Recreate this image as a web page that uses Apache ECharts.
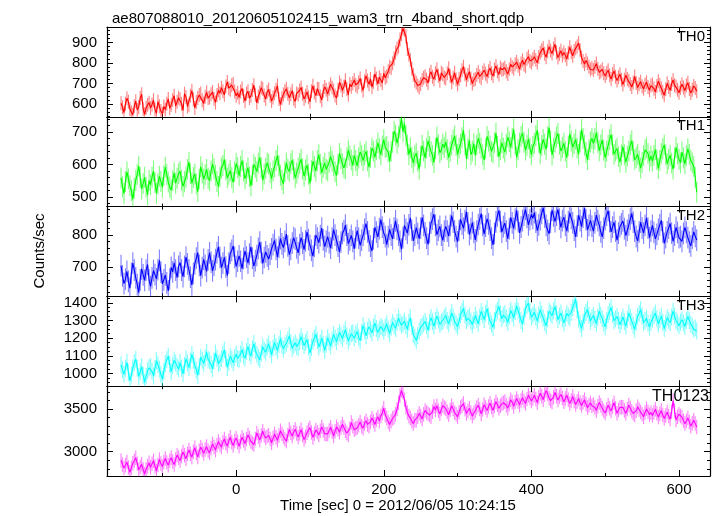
<!DOCTYPE html>
<html>
<head>
<meta charset="utf-8">
<script src="https://cdn.jsdelivr.net/npm/echarts@6/dist/echarts.min.js"></script>
<style>html,body{margin:0;padding:0;background:#fff}#c{width:717px;height:516px}</style>
</head>
<body>
<div id="c"></div>
<script>
// ---- data (2 s bins, first bin at t = -156 s) ----
const T_START = -156, BIN = 2;
const th0 = [
604,585,558,602,628,611,576,560,548,590,614,571,586,630,648,575,550,582,596,607,
581,598,619,574,555,612,589,566,553,588,573,602,625,579,597,620,641,590,611,631,
623,602,569,650,635,588,597,641,665,622,581,610,629,644,651,618,603,636,657,629,
632,648,659,626,608,644,667,653,680,662,645,685,708,677,669,692,698,661,640,655,
632,661,676,640,614,651,662,629,640,668,692,645,606,637,656,680,674,642,624,659,
671,640,615,632,653,670,689,624,599,628,647,662,675,650,631,648,665,626,613,652,
647,666,681,650,625,640,659,633,611,662,689,657,641,675,673,638,619,664,683,670,
648,675,697,680,666,642,629,668,706,690,667,685,716,672,645,698,684,701,717,693,
684,706,725,690,666,711,737,715,696,722,682,709,747,725,698,731,717,703,750,728,
735,760,782,775,798,822,851,870,880,915,940,968,962,930,868,840,815,772,742,715,
704,690,681,698,717,728,735,718,703,742,757,733,721,750,769,738,713,752,745,729,
724,750,774,735,706,728,752,720,696,722,740,765,782,745,718,741,758,725,700,717,
722,741,755,735,726,752,765,748,734,760,775,750,736,768,785,759,744,778,767,770,
777,760,746,770,793,781,772,794,805,786,770,798,813,792,784,820,831,810,802,818,
830,815,801,829,850,862,873,845,828,857,879,860,846,870,891,852,826,844,859,836,
851,838,819,850,877,852,835,858,871,880,897,862,827,810,795,812,798,782,768,775,
766,780,797,772,754,758,769,750,736,752,765,740,722,745,761,733,714,730,745,718,
695,718,740,722,714,697,683,705,734,703,680,696,709,687,674,694,706,683,667,690,
695,676,659,688,711,694,677,660,643,672,701,683,667,698,717,692,685,670,655,679,
696,681,666,690,704,673,654,670,688,678,662];
const th1 = [
559,532,511,548,577,556,535,520,493,528,551,570,595,560,525,542,561,530,507,551,
538,561,580,545,512,540,564,548,530,566,592,570,546,531,522,550,574,543,558,572,
579,552,533,547,561,585,607,572,543,560,571,540,517,556,593,574,555,569,585,558,
551,580,601,586,567,548,533,562,589,597,615,584,559,570,581,560,545,578,603,590,
566,594,612,580,556,573,590,562,534,568,600,591,578,604,622,590,552,571,588,605,
601,575,557,580,593,612,627,596,567,552,541,578,605,586,579,602,613,585,559,574,
589,603,616,586,564,583,598,570,542,581,610,594,580,612,630,601,574,592,604,585,
580,607,624,610,596,578,566,601,634,618,602,590,586,621,644,627,614,597,628,612,
596,620,638,628,612,630,640,611,592,622,650,641,622,645,666,648,630,657,676,652,
655,638,610,640,668,702,690,665,685,712,742,700,725,688,660,630,650,622,605,626,
634,610,586,625,658,641,620,650,672,655,640,628,606,648,684,660,636,645,662,652,
669,645,621,640,659,675,687,658,631,650,663,682,705,660,617,648,675,630,641,664,
628,660,680,665,650,630,614,648,686,672,656,640,636,667,696,655,624,645,666,650,
638,662,684,670,652,680,708,662,622,645,666,686,696,668,644,659,678,650,630,655,
665,688,705,667,633,658,677,662,647,684,713,672,629,650,669,684,695,662,641,652,
665,640,621,657,693,672,653,664,677,650,631,670,707,680,659,636,615,645,669,680,
665,678,697,668,642,660,675,644,621,640,659,676,691,660,631,642,649,624,607,630,
655,630,607,625,641,660,673,640,615,622,631,610,589,606,627,645,651,634,611,626,
610,628,646,615,588,612,634,648,660,630,602,617,628,604,586,620,652,633,616,605,
638,620,602,627,648,631,612,604,594,560,515];
const th2 = [
704,672,648,662,686,655,634,680,712,690,666,645,620,660,694,675,658,690,708,660,
639,666,689,676,663,692,721,684,647,660,675,650,625,662,699,685,713,690,667,702,
714,690,670,702,731,710,691,668,644,680,710,728,745,705,673,698,724,705,686,722,
744,715,688,705,723,745,763,730,698,712,730,700,673,712,743,752,766,730,702,718,
735,718,695,727,750,731,712,740,763,728,703,720,736,758,778,745,711,730,747,735,
725,740,757,770,783,755,731,762,789,772,761,780,803,766,739,755,775,792,787,760,
744,770,792,775,754,782,810,786,768,752,734,765,800,790,776,798,822,785,764,780,
795,776,759,790,817,800,783,765,747,778,805,814,831,800,773,785,799,780,757,792,
814,790,768,784,800,818,836,810,782,765,750,788,824,809,794,820,848,825,806,795,
770,795,818,800,788,822,844,818,800,780,756,792,830,818,806,832,854,815,782,800,
823,805,789,822,855,830,807,790,771,808,837,850,865,830,801,815,827,800,783,812,
827,812,797,830,861,840,813,795,779,815,849,835,821,845,873,838,801,820,839,808,
785,812,833,850,867,830,803,828,851,835,815,790,769,805,841,860,877,842,809,826,
837,812,789,820,855,838,821,850,877,842,807,825,845,862,880,855,832,848,865,852,
870,840,814,832,848,868,885,856,830,815,804,840,878,860,842,862,880,850,824,845,
856,830,812,842,870,852,838,815,794,828,862,845,826,856,884,848,816,830,846,828,
812,838,862,845,830,810,794,822,848,862,876,842,810,825,840,812,784,806,826,835,
844,820,798,815,832,850,868,840,812,795,782,810,840,822,806,830,854,822,792,812,
830,808,788,802,818,832,846,810,774,792,810,822,836,806,780,800,824,808,792,795,
780,805,824,808,792,778,766,790,810,796,784];
const th3 = [
1049,1020,995,1030,1063,1005,959,992,1031,1060,1081,1030,983,1010,1039,990,949,985,1015,1032,
1040,1012,986,1030,1072,1050,1024,995,968,1012,1056,1078,1098,1052,1010,1045,1074,1060,1040,1025,
1061,1030,998,1045,1082,1060,1034,1070,1108,1075,1044,1020,990,1040,1092,1075,1056,1088,1120,1080,
1072,1050,1027,1070,1116,1088,1055,1062,1084,1110,1133,1085,1034,1065,1097,1080,1060,1090,1109,1085,
1080,1110,1135,1102,1087,1125,1152,1118,1099,1140,1169,1130,1108,1092,1077,1115,1151,1132,1120,1148,
1168,1135,1106,1145,1176,1150,1130,1165,1197,1160,1139,1158,1171,1190,1213,1175,1142,1160,1174,1152,
1146,1180,1208,1182,1158,1175,1192,1150,1116,1148,1182,1200,1222,1185,1150,1172,1200,1165,1130,1165,
1202,1178,1155,1190,1221,1200,1179,1210,1232,1215,1198,1225,1248,1212,1183,1205,1225,1230,1200,1220,
1238,1205,1186,1232,1270,1242,1213,1245,1265,1248,1230,1262,1284,1255,1232,1250,1265,1258,1239,1262,
1281,1250,1226,1262,1289,1270,1255,1288,1314,1290,1273,1280,1296,1270,1250,1290,1315,1265,1220,1205,
1186,1215,1242,1260,1269,1282,1294,1270,1244,1290,1315,1292,1268,1300,1324,1302,1278,1290,1297,1315,
1328,1300,1280,1315,1342,1320,1294,1280,1264,1295,1332,1350,1368,1330,1298,1312,1322,1295,1276,1300,
1329,1305,1281,1320,1351,1330,1305,1340,1367,1325,1297,1280,1261,1300,1341,1358,1379,1340,1309,1330,
1338,1312,1288,1325,1356,1338,1314,1350,1382,1355,1330,1300,1280,1325,1368,1385,1398,1350,1318,1330,
1346,1320,1296,1330,1360,1336,1314,1290,1270,1310,1352,1340,1328,1355,1378,1340,1304,1325,1342,1310,
1286,1312,1340,1325,1314,1345,1372,1398,1420,1360,1306,1280,1254,1290,1328,1345,1362,1330,1296,1315,
1328,1305,1282,1318,1352,1330,1310,1285,1264,1300,1334,1352,1372,1335,1298,1310,1322,1300,1276,1298,
1320,1292,1268,1305,1342,1318,1296,1272,1250,1288,1324,1340,1362,1325,1288,1300,1312,1285,1262,1290,
1308,1325,1342,1310,1280,1302,1324,1290,1254,1285,1316,1300,1288,1320,1352,1325,1300,1285,1270,1290,
1304,1285,1266,1300,1322,1298,1280,1265,1250,1258,1240];
const th0123 = [
2898,2850,2808,2840,2878,2815,2758,2810,2864,2895,2928,2860,2788,2822,2852,2790,2738,2795,2830,2870,
2816,2860,2895,2830,2774,2845,2910,2862,2826,2880,2920,2875,2842,2895,2930,2885,2850,2910,2960,2930,
2895,2950,2997,2958,2918,2975,3020,2972,2938,3000,3047,2985,2939,3010,3053,3020,2980,3025,3060,3010,
2986,3045,3092,3055,3020,3075,3120,3085,3054,3110,3150,3100,3066,3125,3170,3110,3072,3125,3160,3115,
3064,3120,3170,3135,3096,3150,3196,3160,3120,3100,3084,3150,3220,3175,3136,3190,3240,3190,3160,3180,
3192,3150,3105,3160,3207,3170,3135,3190,3245,3210,3178,3150,3125,3195,3261,3220,3185,3230,3265,3215,
3172,3215,3258,3195,3142,3180,3222,3255,3282,3225,3168,3210,3256,3230,3196,3245,3292,3250,3212,3205,
3209,3250,3287,3235,3183,3240,3293,3265,3229,3280,3323,3285,3245,3220,3197,3270,3343,3300,3257,3275,
3280,3310,3349,3300,3276,3330,3365,3320,3300,3350,3395,3360,3320,3375,3409,3360,3420,3455,3510,3430,
3395,3350,3320,3360,3390,3405,3440,3500,3575,3660,3720,3700,3610,3520,3460,3420,3395,3360,3330,3370,
3370,3410,3450,3420,3385,3440,3485,3460,3445,3430,3410,3470,3530,3490,3540,3480,3445,3500,3540,3520,
3505,3470,3433,3490,3539,3500,3461,3440,3409,3465,3519,3540,3565,3500,3449,3480,3509,3460,3419,3455,
3479,3520,3546,3500,3444,3495,3551,3520,3483,3530,3568,3525,3486,3540,3586,3550,3511,3540,3561,3575,
3590,3545,3511,3560,3611,3580,3532,3585,3626,3590,3549,3600,3633,3595,3566,3620,3664,3630,3595,3625,
3663,3620,3577,3640,3687,3650,3611,3670,3717,3680,3627,3600,3583,3640,3697,3650,3607,3645,3671,3630,
3585,3625,3663,3610,3565,3600,3649,3595,3553,3590,3624,3575,3542,3580,3610,3560,3518,3545,3575,3540,
3555,3520,3485,3535,3579,3545,3511,3480,3455,3500,3545,3510,3479,3530,3575,3510,3451,3490,3519,3525,
3521,3485,3451,3500,3547,3510,3475,3450,3431,3480,3527,3495,3465,3440,3411,3460,3503,3470,3435,3460,
3426,3460,3498,3450,3406,3445,3483,3430,3391,3425,3465,3420,3381,3470,3600,3480,3372,3410,3440,3420,
3405,3365,3330,3360,3395,3350,3300,3335,3370,3330,3290];
// approximate 1-sigma error per band (counts/sec)
const errors = [34, 32, 34, 48, 85];
const bandNames = ['TH0','TH1','TH2','TH3','TH0123'];
// axis ranges and tick labels
const xRange = [-175, 642];
const xMajorTicks = [0, 200, 400, 600];
const xMinorTicks = [-100, 100, 300, 500];
const yRanges = [[538, 975], [471, 746], [608, 889], [928, 1436], [2715, 3769]];
const yMajorTicks = [
  [600, 700, 800, 900],
  [500, 600, 700],
  [700, 800],
  [1000, 1100, 1200, 1300, 1400],
  [3000, 3500]
];
const yMinorStep = [20, 20, 20, 25, 100];
const titleText = 'ae807088010_20120605102415_wam3_trn_4band_short.qdp';
const xTitle = 'Time [sec] 0 = 2012/06/05 10:24:15';
const yTitle = 'Counts/sec';

// ---- build ----
const series = [th0, th1, th2, th3, th0123];
const colors = ['#ff0000', '#00ff00', '#0000ff', '#00ffff', '#ff00ff'];
const FONT = 'Liberation Sans, Arial, Helvetica, sans-serif';
const L = 107, R = 7, TOP = 27, H = 89.8;

function minorTicks(range, step, majors) {
  const out = [];
  let v = Math.ceil(range[0] / step) * step;
  for (; v <= range[1]; v += step) if (majors.indexOf(v) < 0) out.push(v);
  return out;
}

const grids = [], xAxes = [], yAxes = [], seriesOpts = [], graphics = [];
const axisLineOn = { show: true, onZero: false, lineStyle: { color: '#000', width: 1.2 } };
const axisLineOff = { show: false, onZero: false };
const plain = v => String(v);
series.forEach((vals, i) => {
  const time = vals.map((_, k) => T_START + BIN * k);
  const top = TOP + H * i;
  grids.push({ left: L, right: R, top: top, height: H });
  const yMinor = minorTicks(yRanges[i], yMinorStep[i], yMajorTicks[i]);
  const isBottom = i === series.length - 1;
  [['bottom', xMajorTicks, 6, true], ['bottom', xMinorTicks, 3, false],
   ['top', xMajorTicks, 6, true], ['top', xMinorTicks, 3, false]].forEach(([pos, ticks, len, major]) => {
    xAxes.push({
      type: 'value', gridIndex: i, position: pos, min: xRange[0], max: xRange[1],
      axisLine: major ? axisLineOn : axisLineOff,
      axisTick: { show: true, inside: true, length: len, customValues: ticks, lineStyle: { color: '#000', width: 1 } },
      axisLabel: (isBottom && pos === 'bottom' && major) ?
        { show: true, customValues: xMajorTicks, formatter: plain, color: '#000', fontSize: 15, fontFamily: FONT, margin: 6 } : { show: false },
      splitLine: { show: false }
    });
  });
  [['left', yMajorTicks[i], 6, true], ['left', yMinor, 3, false],
   ['right', yMajorTicks[i], 6, true], ['right', yMinor, 3, false]].forEach(([pos, ticks, len, major]) => {
    yAxes.push({
      type: 'value', gridIndex: i, position: pos, min: yRanges[i][0], max: yRanges[i][1],
      axisLine: major ? axisLineOn : axisLineOff,
      axisTick: { show: true, inside: true, length: len, customValues: ticks, lineStyle: { color: '#000', width: 1 } },
      axisLabel: (pos === 'left' && major) ?
        { show: true, customValues: yMajorTicks[i], formatter: plain, color: '#000', fontSize: 15, fontFamily: FONT, margin: 10 } : { show: false },
      splitLine: { show: false }
    });
  });
  const pts = time.map((t, k) => [t, vals[k]]);
  const err = errors[i], col = colors[i];
  seriesOpts.push({
    type: 'custom', xAxisIndex: 4 * i, yAxisIndex: 4 * i, clip: true, silent: true,
    data: pts,
    renderItem: function (params, api) {
      const x = api.value(0), y = api.value(1);
      const p1 = api.coord([x, y - err]), p2 = api.coord([x, y + err]);
      return { type: 'line', shape: { x1: p1[0], y1: p1[1], x2: p2[0], y2: p2[1] },
               style: { stroke: col, opacity: 0.5, lineWidth: 1.1 } };
    }
  });
  seriesOpts.push({
    type: 'line', xAxisIndex: 4 * i, yAxisIndex: 4 * i, data: pts, showSymbol: false,
    symbol: 'none', lineStyle: { color: col, width: 1.1 }, itemStyle: { color: col }, silent: true
  });
  graphics.push({
    type: 'text', right: i === 4 ? R + 1 : R + 5, top: top + 2,
    style: { text: bandNames[i], font: (i === 4 ? '16px ' : '15px ') + FONT, fill: '#000' }, z: 100
  });
});
graphics.push({
  type: 'text', x: 40, y: 251, rotation: Math.PI / 2,
  style: { text: yTitle, font: '15px ' + FONT, fill: '#000', textAlign: 'center', textVerticalAlign: 'middle' }
});
graphics.push({
  type: 'text', x: 398, y: 506,
  style: { text: xTitle, font: '15px ' + FONT, fill: '#000', textAlign: 'center', textVerticalAlign: 'middle' }
});

const chart = echarts.init(document.getElementById('c'), null, { renderer: 'canvas' });
chart.setOption({
  animation: false,
  backgroundColor: '#fff',
  title: { text: titleText, left: 107, top: 6, textStyle: { fontSize: 15, fontWeight: 'normal', color: '#000', fontFamily: FONT } },
  grid: grids, xAxis: xAxes, yAxis: yAxes, series: seriesOpts, graphic: graphics
});
</script>
</body>
</html>
